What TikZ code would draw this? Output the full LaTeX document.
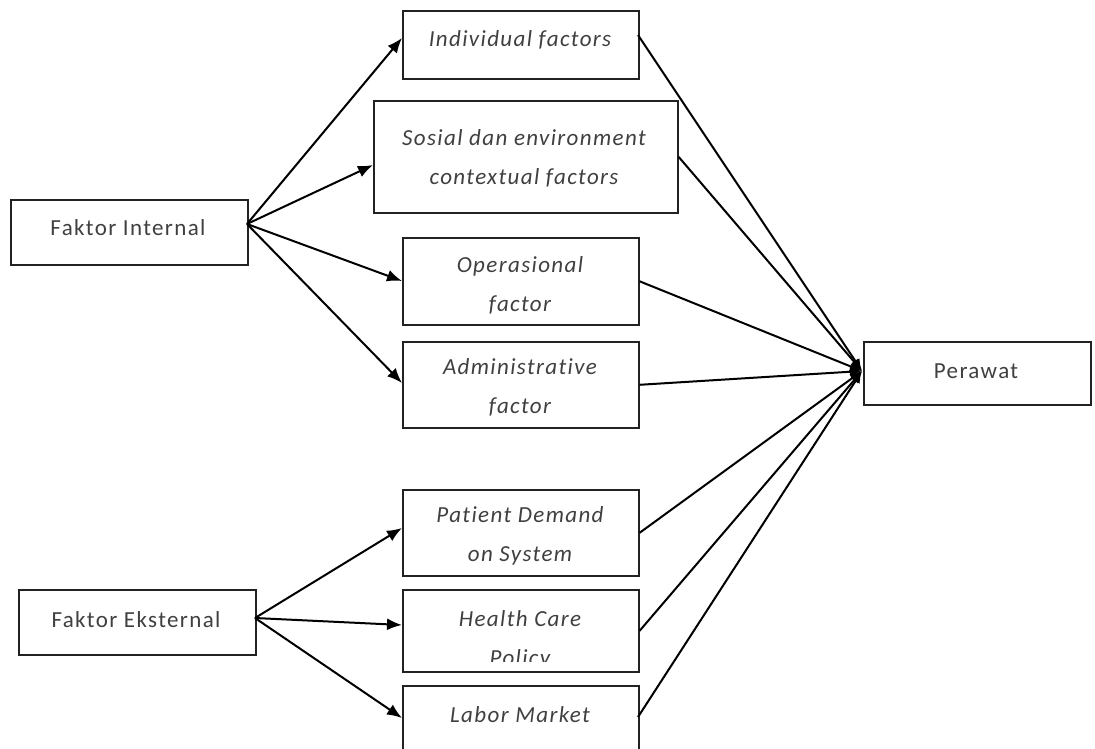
\documentclass[tikz,border=0pt]{standalone}
\usepackage{fontspec}
\setmainfont{Carlito}
\newfontfamily\spaced[LetterSpace=6,Ligatures={NoCommon,NoRare,NoContextual}]{Carlito}
\usetikzlibrary{arrows.meta}
\definecolor{txt}{HTML}{404040}
\definecolor{edge}{HTML}{222222}
\tikzset{
  box/.style={draw=edge, line width=1.6pt, anchor=north west, inner sep=0pt, fill=white},
  lbl/.style={text=txt, align=center, font=\spaced\fontsize{23}{39}\selectfont},
  ilbl/.style={text=txt, align=center, font=\spaced\fontsize{23}{39}\selectfont\itshape},
  arr/.style={line width=2pt, draw=black, -{Latex[length=15pt,width=12pt]}},
  conv/.style={line width=2pt, draw=black, -{Latex[length=12pt,width=10pt]}}
}
\begin{document}
\begin{tikzpicture}[x=1pt,y=-1pt]
\clip (0,0) rectangle (1095,749);
\fill[white] (0,0) rectangle (1095,749);

% boxes
\node[box, minimum width=237pt, minimum height=65pt] (fi) at (10,199) {};
\node[box, minimum width=237pt, minimum height=65pt] (fe) at (18,589) {};
\node[box, minimum width=236pt, minimum height=68pt] (ind) at (402,10) {};
\node[box, minimum width=304pt, minimum height=112pt] (sos) at (373,100) {};
\node[box, minimum width=236pt, minimum height=87pt] (ops) at (402,237) {};
\node[box, minimum width=236pt, minimum height=86pt] (adm) at (402,341) {};
\node[box, minimum width=236pt, minimum height=86pt] (pat) at (402,489) {};
\node[box, minimum width=236pt, minimum height=82pt] (hcp) at (402,589) {};
\node[box, minimum width=236pt, minimum height=82pt] (lab) at (402,685) {};
\node[box, minimum width=227pt, minimum height=63pt] (per) at (863,341) {};

% texts
\node[lbl] (fit) at (128,228) {Faktor Internal};
\node[lbl] (fet) at (136,620) {Faktor Eksternal};
\node[lbl] (pert) at (976,371) {Perawat};
\node[ilbl] (indt) at (520,40) {Individual factors};
\node[ilbl] (sost) at (524,158) {Sosial dan environment\\contextual factors};
\node[ilbl] (opst) at (520,285) {Operasional\\factor};
\node[ilbl] (admt) at (520,387) {Administrative\\factor};
\node[ilbl] (patt) at (520,536) {Patient Demand\\on System};
\begin{scope}
\clip (403,590) rectangle (637,661);
\node[ilbl] (hcpt) at (520,640) {Health Care\\Policy};
\end{scope}
\node[ilbl] (labt) at (520,715) {Labor Market};

% attachment points
\coordinate (fio) at (247,224);
\coordinate (feo) at (255,618);
\coordinate (indi) at (402,38);
\coordinate (sosi) at (373,165);
\coordinate (opsi) at (402,281);
\coordinate (admi) at (402,383);
\coordinate (pati) at (402,528);
\coordinate (hcpi) at (402,625);
\coordinate (labi) at (402,718);
\coordinate (indo) at (638,35);
\coordinate (laboo) at (638,717);
\coordinate (pin) at (862,371);

% arrows from factors
\draw[arr] (fio) -- (indi);
\draw[arr] (fio) -- (sosi);
\draw[arr] (fio) -- (opsi);
\draw[arr] (fio) -- (admi);
\draw[arr] (feo) -- (pati);
\draw[arr] (feo) -- (hcpi);
\draw[arr] (feo) -- (labi);

% converging arrows
\draw[conv] (indo) -- (pin);
\draw[conv] (sos.east) -- (pin);
\draw[conv] (ops.east) -- (pin);
\draw[conv] (adm.east) -- (pin);
\draw[conv] (pat.east) -- (pin);
\draw[conv] (hcp.east) -- (pin);
\draw[conv] (laboo) -- (pin);
\end{tikzpicture}
\end{document}
